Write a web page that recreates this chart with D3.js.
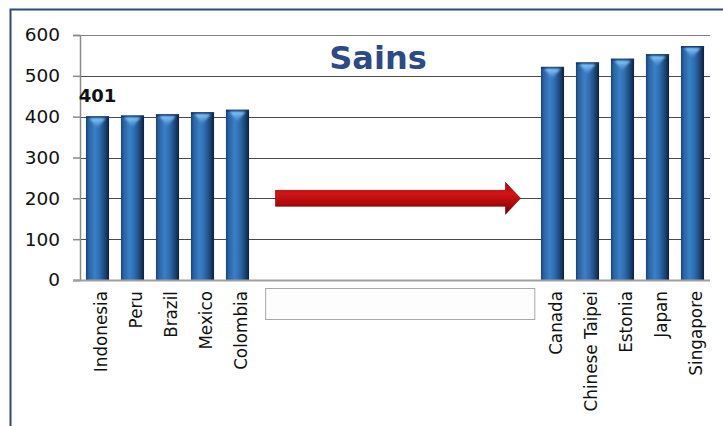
<!DOCTYPE html>
<html>
<head>
<meta charset="utf-8">
<script src="https://cdn.jsdelivr.net/npm/d3@7"></script>
<style>
  html, body { margin: 0; padding: 0; background: #fff; }
  svg { display: block; font-family: "DejaVu Sans", Verdana, sans-serif; }
</style>
</head>
<body>
<svg id="chart" width="723" height="426"></svg>
<script>
// PISA science scores: five lowest and five highest countries, blank slots between
const categories = ["Indonesia", "Peru", "Brazil", "Mexico", "Colombia",
  "", "", "", "", "", "", "", "",
  "Canada", "Chinese Taipei", "Estonia", "Japan", "Singapore"];
const scores = [401, 403, 406, 411, 417,
  null, null, null, null, null, null, null, null,
  522, 533, 542, 553, 573];
const yTicks = [0, 100, 200, 300, 400, 500, 600];
const title = "Sains";
const labelledIndex = 0;      // bar whose value is printed above it
const arrowValue = 200;       // level of the arrow across the gap

const svg = d3.select("#chart");
const W = 723, H = 426;
const plot = { left: 80, right: 710, top: 35, bottom: 280 };

const x = d3.scaleBand()
  .domain(d3.range(categories.length))
  .range([plot.left, plot.right])
  .paddingInner(0.34)
  .paddingOuter(0.17);

const y = d3.scaleLinear().domain([0, 600]).range([plot.bottom, plot.top]);

const defs = svg.append("defs");

// cylinder-like shading across the bar
const barGrad = defs.append("linearGradient").attr("id", "barGrad")
  .attr("x1", "0").attr("x2", "1").attr("y1", "0").attr("y2", "0");
[[0, "#1a4272"], [0.12, "#2a62a2"], [0.38, "#3a80c6"], [0.6, "#2e6aae"],
 [0.82, "#1c4678"], [1, "#0b1f3a"]].forEach(([o, c]) =>
  barGrad.append("stop").attr("offset", o).attr("stop-color", c));

const capGrad = defs.append("linearGradient").attr("id", "capGrad")
  .attr("x1", "0").attr("x2", "0").attr("y1", "0").attr("y2", "1");
capGrad.append("stop").attr("offset", 0).attr("stop-color", "#8fd0ff").attr("stop-opacity", 1);
capGrad.append("stop").attr("offset", 1).attr("stop-color", "#4b95d8").attr("stop-opacity", 0.3);

const arrowGrad = defs.append("linearGradient").attr("id", "arrowGrad")
  .attr("x1", "0").attr("x2", "0").attr("y1", "0").attr("y2", "1");
[[0, "#b80000"], [0.35, "#d21414"], [0.7, "#a80808"], [1, "#6a0000"]].forEach(([o, c]) =>
  arrowGrad.append("stop").attr("offset", o).attr("stop-color", c));

defs.append("filter").attr("id", "soft")
  .append("feGaussianBlur").attr("stdDeviation", 0.8);

// outer frame
svg.append("rect")
  .attr("x", 10.5).attr("y", 9.5)
  .attr("width", W).attr("height", H)
  .attr("fill", "#fff")
  .attr("stroke", "#2d4a78").attr("stroke-width", 2);

// horizontal gridlines
svg.append("g").selectAll("line")
  .data(yTicks.filter(t => t > 0))
  .join("line")
  .attr("x1", plot.left).attr("x2", plot.right)
  .attr("y1", d => Math.round(y(d)) + 0.5).attr("y2", d => Math.round(y(d)) + 0.5)
  .attr("stroke", d => d === 600 ? "#808080" : "#4a4a4a")
  .attr("stroke-width", 1);

// y axis
const yAxis = d3.axisLeft(y).tickValues(yTicks).tickSize(7).tickPadding(13);
const gy = svg.append("g")
  .attr("transform", `translate(${plot.left},0)`)
  .call(yAxis);
gy.select(".domain").attr("stroke", "#8a8a8a").attr("stroke-width", 1.5);
gy.selectAll(".tick line").attr("stroke", "#8a8a8a").attr("stroke-width", 1.5);
gy.selectAll(".tick text")
  .attr("font-size", 18.5).attr("fill", "#111")
  .attr("font-family", "'DejaVu Sans', Verdana, sans-serif");

// title
svg.append("text")
  .attr("x", 378).attr("y", 69)
  .attr("text-anchor", "middle")
  .attr("font-size", 32).attr("font-weight", "bold")
  .attr("fill", "#2c4a86")
  .text(title);

// bars
const barData = scores.map((v, i) => ({ i, v })).filter(d => d.v != null);
const bars = svg.append("g").selectAll("g").data(barData).join("g");
bars.append("rect")
  .attr("x", d => x(d.i)).attr("width", x.bandwidth())
  .attr("y", d => y(d.v)).attr("height", d => y(0) - y(d.v))
  .attr("fill", "url(#barGrad)");
// darker rim at the top of each bar
bars.append("rect")
  .attr("x", d => x(d.i)).attr("width", x.bandwidth())
  .attr("y", d => y(d.v)).attr("height", 2)
  .attr("fill", "#17365e").attr("opacity", 0.8);
// highlight wedge on the top face
bars.append("path")
  .attr("d", d => {
    const x0 = x(d.i), w = x.bandwidth(), t = y(d.v);
    return `M${x0 + w * 0.15},${t + 2} L${x0 + w * 0.85},${t + 2} L${x0 + w * 0.5},${t + 12} Z`;
  })
  .attr("fill", "url(#capGrad)")
  .attr("filter", "url(#soft)");

// bottom axis line
svg.append("line")
  .attr("x1", plot.left - 7).attr("x2", plot.right)
  .attr("y1", y(0) + 0.5).attr("y2", y(0) + 0.5)
  .attr("stroke", "#a0a0a0").attr("stroke-width", 2);

// value label on the lowest bar
svg.append("text")
  .attr("x", x(labelledIndex) + x.bandwidth() / 2)
  .attr("y", y(scores[labelledIndex]) - 14)
  .attr("text-anchor", "middle")
  .attr("font-size", 18).attr("font-weight", "bold")
  .attr("fill", "#111")
  .text(scores[labelledIndex]);

// category labels, rotated
svg.append("g").selectAll("text")
  .data(categories.map((c, i) => ({ c, i })).filter(d => d.c))
  .join("text")
  .attr("transform", d => `translate(${x(d.i) + x.bandwidth() / 2 + 9},${plot.bottom + 11}) rotate(-90)`)
  .attr("text-anchor", "end")
  .attr("font-size", 16.8)
  .attr("fill", "#111")
  .text(d => d.c);

// empty label box under the gap
const gapFirst = categories.indexOf("");
const gapLast = categories.lastIndexOf("");
const step = x.step();
svg.append("rect")
  .attr("x", x(gapFirst) + step * 0.12 + 0.5)
  .attr("y", plot.bottom + 8.5)
  .attr("width", (x(gapLast) + x.bandwidth() + step * 0.15) - (x(gapFirst) + step * 0.12))
  .attr("height", 31)
  .attr("fill", "#fdfdfd")
  .attr("stroke", "#a8a8a8").attr("stroke-width", 1);

// arrow across the gap, from the low group toward the high group
const ax0 = x(gapFirst) + x.bandwidth() / 2 + 3;
const ax1 = x(gapLast) + x.bandwidth() / 2 + 3;
const ay = y(arrowValue);
const shaft = 8, head = 16, headLen = 15;
svg.append("path")
  .attr("d", `M${ax0},${ay - shaft} L${ax1 - headLen},${ay - shaft} L${ax1 - headLen},${ay - head}
              L${ax1},${ay} L${ax1 - headLen},${ay + head} L${ax1 - headLen},${ay + shaft}
              L${ax0},${ay + shaft} Z`)
  .attr("fill", "url(#arrowGrad)")
  .attr("stroke", "#7a0000").attr("stroke-width", 0.6);
</script>
</body>
</html>
